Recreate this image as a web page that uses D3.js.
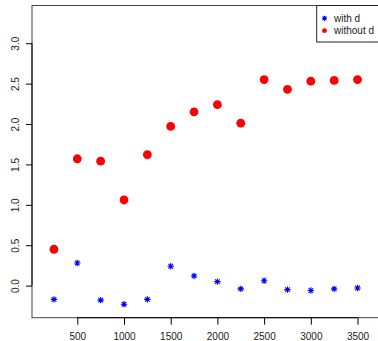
<!DOCTYPE html>
<html>
<head>
<meta charset="utf-8">
<script src="https://cdn.jsdelivr.net/npm/d3@7"></script>
<style>
  body { margin: 0; background: #fff; }
  svg { display: block; font-family: "Liberation Sans", Arial, sans-serif; }
</style>
</head>
<body>
<svg id="chart" width="378" height="341"></svg>
<script>
const xs = [250, 500, 750, 1000, 1250, 1500, 1750, 2000, 2250, 2500, 2750, 3000, 3250, 3500];
const withD = [-0.17, 0.28, -0.18, -0.23, -0.17, 0.24, 0.12, 0.05, -0.04, 0.06, -0.05, -0.06, -0.04, -0.03];
const withoutD = [0.45, 1.57, 1.54, 1.06, 1.62, 1.97, 2.15, 2.24, 2.01, 2.55, 2.43, 2.53, 2.54, 2.55];
const xTicks = [500, 1000, 1500, 2000, 2500, 3000, 3500];
const yTicks = [0, 0.5, 1, 1.5, 2, 2.5, 3];
const legendLabels = ['with d', 'without d'];

const svg = d3.select('#chart');
const plotL = 32, plotR = 382, plotT = 5.5, plotB = 317.7;

const x = d3.scaleLinear().domain([15, 3762]).range([plotL, plotR]);
const y = d3.scaleLinear().domain([-0.397, 3.467]).range([plotB, plotT]);

// plot box
svg.append('rect')
  .attr('x', plotL).attr('y', plotT)
  .attr('width', plotR - plotL).attr('height', plotB - plotT)
  .attr('fill', 'none').attr('stroke', '#444').attr('stroke-width', 1);

// x axis
const xAxis = svg.append('g')
  .attr('transform', `translate(0,${plotB})`)
  .call(d3.axisBottom(x).tickValues(xTicks).tickSize(7).tickPadding(8).tickFormat(d3.format('d')));
xAxis.select('.domain').attr('d', `M${x(500)},0H${x(3500)}`).attr('stroke', '#000');
xAxis.selectAll('text').attr('font-size', 10).attr('fill', '#222')
  .attr('font-family', '"Liberation Sans", Arial, sans-serif');

// y axis
const yAxis = svg.append('g')
  .attr('transform', `translate(${plotL},0)`)
  .call(d3.axisLeft(y).tickValues(yTicks).tickSize(6).tickFormat(d3.format('.1f')));
yAxis.select('.domain').attr('d', `M0,${y(0)}V${y(3)}`).attr('stroke', '#000');
yAxis.selectAll('text')
  .attr('font-size', 10).attr('fill', '#222')
  .attr('font-family', '"Liberation Sans", Arial, sans-serif')
  .attr('text-anchor', 'middle')
  .attr('dy', null)
  .attr('x', null)
  .attr('transform', `translate(${18.5 - plotL},0) rotate(-90)`);

// asterisk marker (pch 8)
function asterisk(g, cx, cy, s, color) {
  const d = s * 0.72;
  g.append('path')
    .attr('d', `M${cx - s},${cy}H${cx + s}M${cx},${cy - s}V${cy + s}` +
               `M${cx - d},${cy - d}L${cx + d},${cy + d}M${cx - d},${cy + d}L${cx + d},${cy - d}`)
    .attr('stroke', color).attr('stroke-width', 1.1).attr('fill', 'none');
}

const pts = svg.append('g');
xs.forEach((v, i) => {
  pts.append('circle')
    .attr('cx', x(v)).attr('cy', y(withoutD[i])).attr('r', 4.4)
    .attr('fill', '#ff0000');
});
xs.forEach((v, i) => {
  asterisk(pts, x(v), y(withD[i]), 3.2, '#0000ff');
});

// legend
const lg = svg.append('g');
lg.append('rect')
  .attr('x', 316.7).attr('y', plotT)
  .attr('width', plotR - 316.7).attr('height', 42 - plotT)
  .attr('fill', '#fff').attr('stroke', '#222').attr('stroke-width', 1);
asterisk(lg, 324.5, 18.3, 2.6, '#0000ff');
lg.append('circle').attr('cx', 324.5).attr('cy', 30.7).attr('r', 2.4).attr('fill', '#ff0000');
legendLabels.forEach((t, i) => {
  lg.append('text')
    .attr('x', 334).attr('y', 18.3 + i * 12.4 + 3.6)
    .attr('font-size', 10).attr('fill', '#222')
    .text(t);
});
</script>
</body>
</html>
